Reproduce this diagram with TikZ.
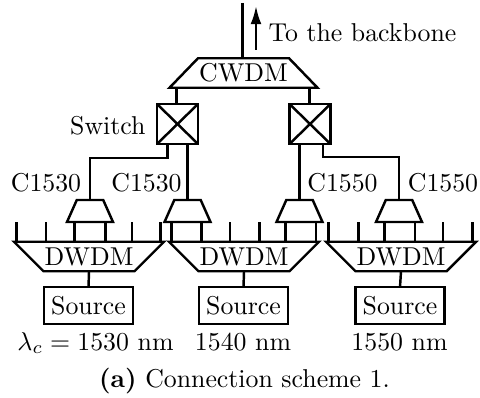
\documentclass[tikz,border=0pt]{standalone}
\usepackage{amsmath}
\usetikzlibrary{shapes.geometric,arrows.meta}

\def\px{0.3875pt}
\tikzset{
	link/.style={line width=0.95pt},
	trapnode/.style={draw, line width=0.95pt, shape=trapezium, trapezium stretches body, inner sep=0pt, outer sep=0pt},
	cwdmnode/.style={trapnode, trapezium angle=46, minimum width=148*\px, text height=9.12pt, text depth=2.31pt},
	muxnode/.style={trapnode, trapezium angle=66, minimum width=46*\px, text height=22*\px, text depth=0pt},
	dwdmnode/.style={trapnode, shape border rotate=180, trapezium angle=45, minimum width=150*\px, text height=9.12pt, text depth=2.31pt},
	switchnode/.style={draw, line width=1.1pt, inner sep=0pt, outer sep=0pt, minimum width=41*\px, minimum height=40*\px},
	sourcenode/.style={draw, line width=0.95pt, inner sep=0pt, outer sep=0pt, minimum width=89*\px, minimum height=37*\px}
}

\begin{document}
\begin{tikzpicture}[x=\px, y=-\px]
	\useasboundingbox (0,0) rectangle (480,397);

	% top multiplexer and switches
	\node[cwdmnode] (cwdm) at (243.5,73) {CWDM};
	\node[switchnode] (swA) at (177.5,124) {};
	\node[switchnode] (swB) at (310,124) {};
	\draw[link] (swA.north west) -- (swA.south east);
	\draw[link] (swA.north east) -- (swA.south west);
	\draw[link] (swB.north west) -- (swB.south east);
	\draw[link] (swB.north east) -- (swB.south west);

	% filters
	\node[muxnode] (muxA) at (90,211) {};
	\node[muxnode] (muxB) at (187.5,211) {};
	\node[muxnode] (muxC) at (299.5,211) {};
	\node[muxnode] (muxD) at (399,211) {};

	% DWDM row
	\node[dwdmnode] (dwdmA) at (89,256.5) {DWDM};
	\node[dwdmnode] (dwdmB) at (244,256.5) {DWDM};
	\node[dwdmnode] (dwdmC) at (401,256.5) {DWDM};

	\node[sourcenode] (srcA) at (88.5,305.5) {Source};
	\node[sourcenode] (srcB) at (243.5,305.5) {Source};
	\node[sourcenode] (srcC) at (400,305.5) {Source};

	% backbone
	\coordinate (bbtop) at (242.5,3);
	\coordinate (arrowlow) at (256,50);
	\coordinate (arrowhigh) at (256,6);
	\draw[link] (bbtop) -- (bbtop |- cwdm.north);
	\draw[link, -{Latex[length=7pt,width=4.2pt]}] (arrowlow) -- (arrowhigh);
	\node[anchor=west, inner sep=0pt] (backbone) at (268,33) {To the backbone};

	% links around the switches
	\coordinate (upA) at (176.5,0);
	\coordinate (upB) at (309.5,0);
	\draw[link] (cwdm.south -| upA) -- (swA.north -| upA);
	\draw[link] (cwdm.south -| upB) -- (swB.north -| upB);
	\coordinate (portA) at (167.5,0);
	\coordinate (portB) at (323,0);
	\coordinate (bendA) at (90,158);
	\coordinate (bendB) at (399,157);
	\draw[link] (swA.south -| portA) |- (bendA) -- (muxA.north);
	\draw[link] (swB.south -| portB) |- (bendB) -- (muxD.north);
	\draw[link] (swA.south -| muxB) -- (muxB.north);
	\draw[link] (swB.south -| muxC) -- (muxC.north);

	% legs between filters and DWDM
	\foreach \x in {74.5,105.5} \draw[link] (muxA.south -| \x,0) -- (dwdmA.north -| \x,0);
	\foreach \x in {171.5,201.5} \draw[link] (muxB.south -| \x,0) -- (dwdmB.north -| \x,0);
	\foreach \x in {285.5,316} \draw[link] (muxC.south -| \x,0) -- (dwdmB.north -| \x,0);
	\foreach \x in {384.5,415} \draw[link] (muxD.south -| \x,0) -- (dwdmC.north -| \x,0);

	% unused DWDM ports
	\foreach \x in {16.5,46,132,160.5} \draw[link] (\x,222) -- (dwdmA.north -| \x,0);
	\foreach \x in {230,259.5} \draw[link] (\x,222) -- (dwdmB.north -| \x,0);
	\foreach \x in {328.5,358.5,443,472.5} \draw[link] (\x,222) -- (dwdmC.north -| \x,0);

	\draw[link] (dwdmA.south) -- (srcA.north);
	\draw[link] (dwdmB.south) -- (srcB.north);
	\draw[link] (dwdmC.south) -- (srcC.north);

	% labels
	\node[anchor=east, inner sep=0pt] (switchlabel) at (146,126) {Switch};
	\node[inner sep=0pt] (labelA) at (46,183) {C1530};
	\node[inner sep=0pt] (labelB) at (146.5,183) {C1530};
	\node[inner sep=0pt] (labelC) at (342.5,183) {C1550};
	\node[inner sep=0pt] (labelD) at (443,183) {C1550};
	\node[anchor=base, inner sep=0pt] (wlA) at (95.5,350) {$\lambda_c = 1530$ nm};
	\node[anchor=base, inner sep=0pt] (wlB) at (243,350) {1540 nm};
	\node[anchor=base, inner sep=0pt] (wlC) at (399.5,350) {1550 nm};
	\node[anchor=base, inner sep=0pt] (caption) at (244.5,387) {\textbf{(a)} Connection scheme 1.};
\end{tikzpicture}
\end{document}
